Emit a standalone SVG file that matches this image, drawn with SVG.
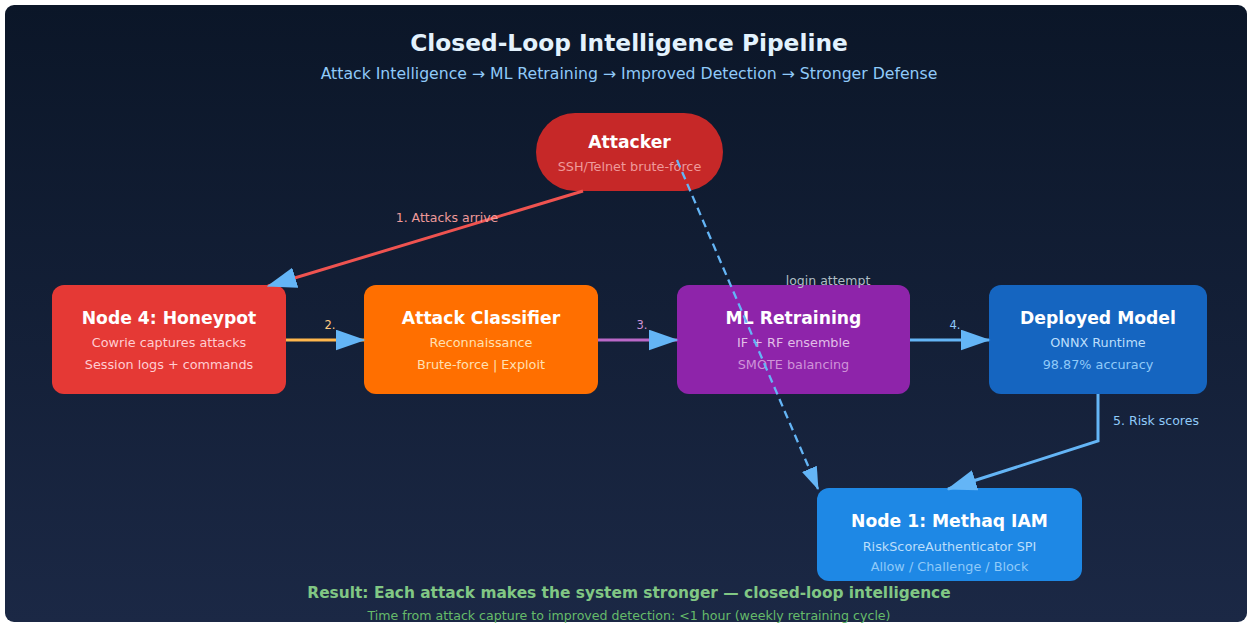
<svg xmlns="http://www.w3.org/2000/svg" width="1252" height="626" viewBox="0 0 1252 626">
  <defs>
    <linearGradient id="bg" x1="0" y1="0" x2="0" y2="1">
      <stop offset="0" stop-color="#0b1628"/>
      <stop offset="1" stop-color="#1b2845"/>
    </linearGradient>
    <marker id="arrow" viewBox="0 0 10 7" markerWidth="10" markerHeight="7" refX="9.5" refY="3.5" orient="auto" markerUnits="strokeWidth">
      <path d="M0,0 L10,3.5 L0,7 Z" fill="#64b5f6"/>
    </marker>
  </defs>
  <style>
    text { font-family: "DejaVu Sans", "Liberation Sans", sans-serif; text-anchor: middle; }
    .title { font-size: 23.3px; font-weight: bold; fill: #e3f2fd; }
    .subtitle { font-size: 15.7px; fill: #90caf9; }
    .node-title { font-size: 17.2px; font-weight: bold; fill: #ffffff; }
    .node-sub { font-size: 12.8px; }
    .edge-label { font-size: 12.5px; }
    .step { font-size: 11.5px; }
    .flow { fill: none; stroke-width: 3; marker-end: url(#arrow); }
  </style>

  <!-- panel -->
  <rect x="0" y="0" width="1252" height="626" fill="#ffffff"/>
  <rect x="5" y="5" width="1242" height="617" rx="9" fill="url(#bg)"/>

  <!-- heading -->
  <text class="title" x="629" y="51">Closed-Loop Intelligence Pipeline</text>
  <text class="subtitle" x="629" y="79">Attack Intelligence → ML Retraining → Improved Detection → Stronger Defense</text>

  <!-- nodes -->
  <g id="attacker">
    <rect x="536" y="113" width="187" height="78" rx="39" fill="#c62828"/>
    <text class="node-title" x="629.5" y="148">Attacker</text>
    <text class="node-sub" x="629.5" y="171" fill="#ef9a9a">SSH/Telnet brute-force</text>
  </g>

  <g id="honeypot">
    <rect x="52" y="285" width="234" height="109" rx="12" fill="#e53935"/>
    <text class="node-title" x="169" y="324">Node 4: Honeypot</text>
    <text class="node-sub" x="169" y="347" fill="#ffcdd2">Cowrie captures attacks</text>
    <text class="node-sub" x="169" y="369" fill="#ffcdd2">Session logs + commands</text>
  </g>

  <g id="classifier">
    <rect x="364" y="285" width="234" height="109" rx="12" fill="#ff6f00"/>
    <text class="node-title" x="481" y="324">Attack Classifier</text>
    <text class="node-sub" x="481" y="347" fill="#ffe0b2">Reconnaissance</text>
    <text class="node-sub" x="481" y="369" fill="#ffe0b2">Brute-force | Exploit</text>
  </g>

  <g id="retraining">
    <rect x="677" y="285" width="233" height="109" rx="12" fill="#8e24aa"/>
    <text class="node-title" x="793.5" y="324">ML Retraining</text>
    <text class="node-sub" x="793.5" y="347" fill="#e1bee7">IF + RF ensemble</text>
    <text class="node-sub" x="793.5" y="369" fill="#ce93d8">SMOTE balancing</text>
  </g>

  <g id="deployed">
    <rect x="989" y="285" width="218" height="109" rx="12" fill="#1565c0"/>
    <text class="node-title" x="1098" y="324">Deployed Model</text>
    <text class="node-sub" x="1098" y="347" fill="#bbdefb">ONNX Runtime</text>
    <text class="node-sub" x="1098" y="369" fill="#90caf9">98.87% accuracy</text>
  </g>

  <g id="iam">
    <rect x="817" y="488" width="265" height="93" rx="12" fill="#1e88e5"/>
    <text class="node-title" x="949.5" y="527">Node 1: Methaq IAM</text>
    <text class="node-sub" x="949.5" y="551" fill="#bbdefb">RiskScoreAuthenticator SPI</text>
    <text class="node-sub" x="949.5" y="571" fill="#90caf9">Allow / Challenge / Block</text>
  </g>

  <!-- connectors, drawn above the nodes -->
  <g id="connectors">
    <line class="flow" x1="583" y1="191" x2="268" y2="286" stroke="#ef5350"/>
    <text class="edge-label" x="447" y="222" fill="#ef9a9a">1. Attacks arrive</text>

    <line class="flow" x1="286" y1="340" x2="364" y2="340" stroke="#ffb74d"/>
    <text class="step" x="330" y="329" fill="#ffcc80">2.</text>

    <line class="flow" x1="598" y1="340" x2="677" y2="340" stroke="#ba68c8"/>
    <text class="step" x="642" y="329" fill="#ce93d8">3.</text>

    <line class="flow" x1="910" y1="340" x2="989" y2="340" stroke="#64b5f6"/>
    <text class="step" x="955" y="329" fill="#90caf9">4.</text>

    <polyline class="flow" points="1098,394 1098,441 948,489" stroke="#64b5f6"/>
    <text class="edge-label" x="1156" y="425" fill="#90caf9">5. Risk scores</text>

    <line x1="677" y1="160" x2="818" y2="489" stroke="#64b5f6" stroke-width="2.3" stroke-dasharray="8,5" fill="none" marker-end="url(#arrow)"/>
    <text class="edge-label" x="828" y="285" fill="#b0bec5">login attempt</text>
  </g>

  <!-- summary -->
  <text x="629" y="598" font-size="15.4" font-weight="bold" fill="#81c784">Result: Each attack makes the system stronger — closed-loop intelligence</text>
  <text x="629" y="620" font-size="12.6" fill="#66bb6a">Time from attack capture to improved detection: &lt;1 hour (weekly retraining cycle)</text>
</svg>
